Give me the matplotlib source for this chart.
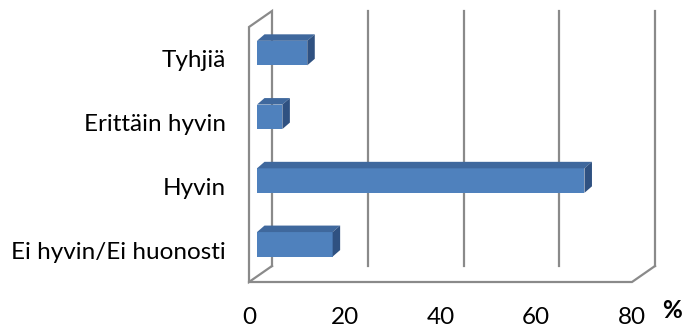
import matplotlib
matplotlib.use("Agg")
import numpy as np
import matplotlib.pyplot as plt
from matplotlib.patches import Polygon
from matplotlib.lines import Line2D

categories = ["Ei hyvin/Ei huonosti", "Hyvin", "Erittäin hyvin", "Tyhjiä"]
values = [15.8, 68.4, 5.3, 10.5]
x_ticks = [0, 20, 40, 60, 80]
x_tick_labels = ["0", "20", "40", "60", "80"]
unit_label = "%"

plt.rcParams["font.family"] = ["Lato", "DejaVu Sans"]
FS = 17.5

W, H = 686, 327
fig = plt.figure(figsize=(W / 100, H / 100), dpi=100)

# front plane of the box, in pixels
x0_px, x1_px = 249, 632
floor_px, top_px = 282, 27
ax = fig.add_axes([x0_px / W, 1 - floor_px / H,
                   (x1_px - x0_px) / W, (floor_px - top_px) / H])
xmax = x_ticks[-1]
n = len(categories)
ax.set_xlim(0, xmax)
ax.set_ylim(-0.5, n - 0.5)
for s in ax.spines.values():
    s.set_visible(False)

sx = xmax / (x1_px - x0_px)
sy = n / (floor_px - top_px)


def depth(dx_px, dy_px):
    return dx_px * sx, dy_px * sy


wall_c = "#8a8a8a"
wall_lw = 1.6
wx, wy = depth(23, 16)
ylo, yhi = -0.5, n - 0.5


def seg(xs, ys):
    ax.add_line(Line2D(xs, ys, color=wall_c, lw=wall_lw, clip_on=False,
                       zorder=1, solid_joinstyle="miter"))


# left wall outline
seg([wx, wx, 0, 0, wx], [ylo + wy, yhi + wy, yhi, ylo, ylo + wy])
# floor front edge and right corner
seg([0, xmax, xmax + wx], [ylo, ylo, ylo + wy])
# back-wall gridlines
for t in x_ticks[1:]:
    seg([t + wx, t + wx], [ylo + wy, yhi + wy])

# bars: front face, top face, side face
front_c, top_c, side_c = "#4f81bd", "#3f689d", "#2f5181"
ox, oy = depth(8, 5.8)
bdx, bdy = depth(7.5, 6.5)
h = 24.5 * sy
ypos = np.arange(n) + oy
ax.barh(ypos, values, left=ox, height=h, color=front_c, zorder=3,
        clip_on=False)
for yc, v in zip(ypos, values):
    yt, yb = yc + h / 2, yc - h / 2
    ax.add_patch(Polygon([(ox, yt), (ox + v, yt), (ox + v + bdx, yt + bdy),
                          (ox + bdx, yt + bdy)], closed=True,
                         facecolor=top_c, edgecolor="none", zorder=3,
                         clip_on=False))
    ax.add_patch(Polygon([(ox + v, yb), (ox + v, yt), (ox + v + bdx, yt + bdy),
                          (ox + v + bdx, yb + bdy)], closed=True,
                         facecolor=side_c, edgecolor="none", zorder=3,
                         clip_on=False))

ax.set_yticks(np.arange(n), categories)
ax.set_xticks(x_ticks, x_tick_labels)
ax.tick_params(axis="both", length=0, labelsize=FS, colors="black")
ax.tick_params(axis="y", pad=16.5)
ax.tick_params(axis="x", pad=18)

fig.text(672 / W, 1 - 311 / H, unit_label, fontsize=FS, fontweight="bold",
         ha="center", va="center")

fig.savefig("out.png", dpi=100)
